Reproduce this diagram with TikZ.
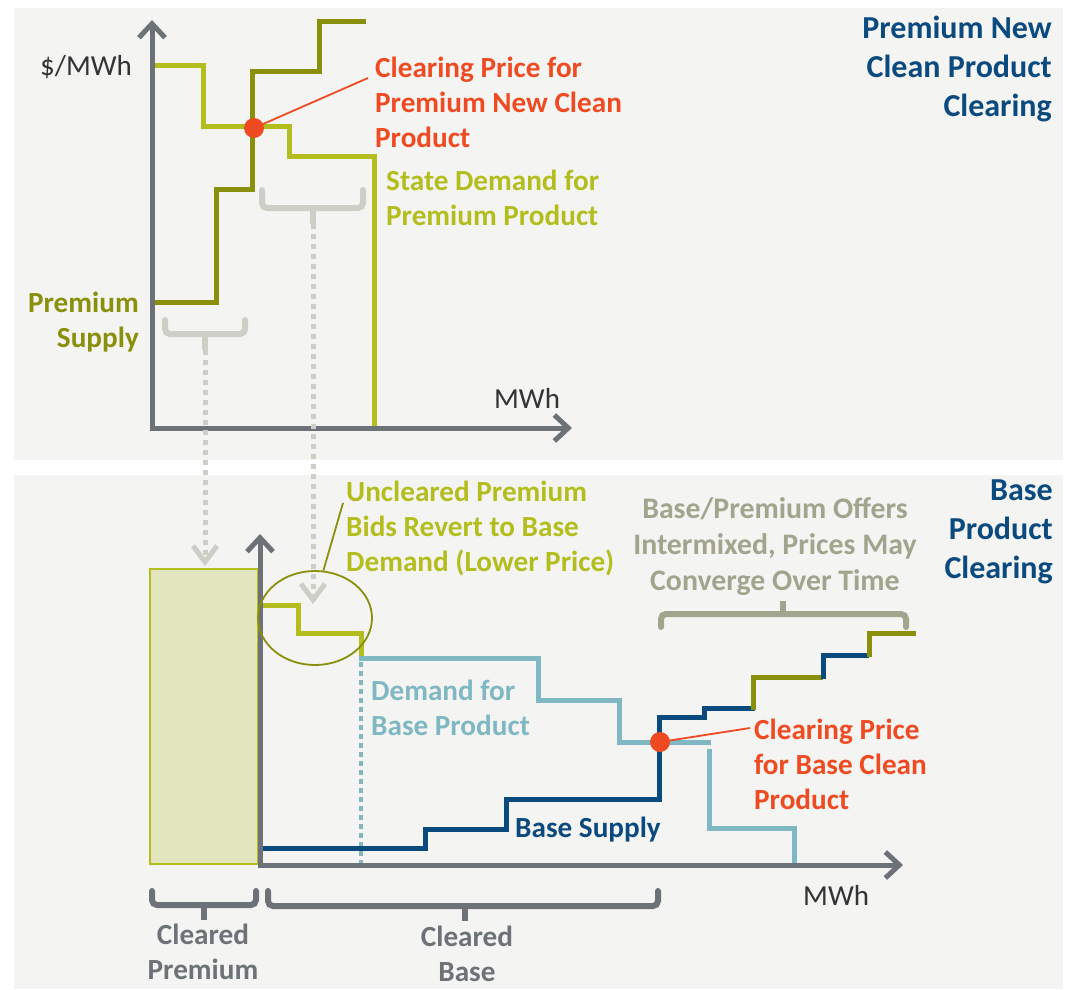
\documentclass[tikz,border=0pt]{standalone}
\usepackage{fontspec}
\setmainfont{Carlito}
\usetikzlibrary{arrows.meta,shapes.geometric}
\definecolor{panelbg}{HTML}{F4F4F2}
\definecolor{axisgray}{HTML}{6D7278}
\definecolor{demgreen}{HTML}{B3BE1E}
\definecolor{olive}{HTML}{8A8F0C}
\definecolor{clearred}{HTML}{EE4B22}
\definecolor{darkblue}{HTML}{0B4A7E}
\definecolor{lightblue}{HTML}{7FB8C2}
\definecolor{bracegray}{HTML}{CDCEC6}
\definecolor{offergray}{HTML}{A2A48E}
\definecolor{rectfill}{HTML}{E3E5BF}
\definecolor{textdark}{HTML}{333333}
\tikzset{
  axisline/.style={draw=axisgray, line width=5pt, -{Straight Barb[length=14pt,width=26pt,line width=5pt]}},
  curve/.style={line width=5pt},
  lbl/.style={inner sep=0pt, font={\fontsize{29.2}{35}\selectfont\bfseries}},
  reglbl/.style={inner sep=0pt, font={\fontsize{29}{35}\selectfont}, text=textdark},
  titlelbl/.style={inner sep=0pt, font={\fontsize{32}{39}\selectfont\bfseries}, text=darkblue, align=right, anchor=base east},
  bracket/.style={line width=6pt, rounded corners=5pt, line cap=round},
  dotarrow/.style={draw=bracegray, line width=5pt, dash pattern=on 4.5pt off 5.5pt, -{Straight Barb[length=16pt,width=24pt,line width=5pt]}},
  cleardot/.style={circle, fill=clearred, minimum size=20pt, inner sep=0pt},
  leader/.style={line width=1.8pt}
}
\begin{document}
\begin{tikzpicture}[x=1pt,y=-1pt]
\useasboundingbox (0,0) rectangle (1069,989);
% panels
\fill[panelbg] (14,8) rectangle (1063,460);
\fill[panelbg] (14,475) rectangle (1063,989);

% ===== TOP PANEL =====
\coordinate (tY) at (152,20);
\coordinate (tX) at (572,428);
% demand
\draw[curve, demgreen] (153,65) -- (203,65) -- (203,126) -- (289,126) -- (289,156) -- (374,156) -- (374,428);
% supply
\draw[curve, olive] (150,302) -- (216,302) -- (216,189) -- (252,189) -- (252,71) -- (319,71) -- (319,21) -- (366,21);
% axes
\draw[axisline] (152,430) -- (tY);
\draw[axisline] (150,428) -- (tX);
% clearing dot
\node[cleardot] (cp1) at (254,128) {};
\node[lbl, text=clearred, anchor=base west, align=left] (cp1t) at (375,147) {Clearing Price for\\Premium New Clean\\Product};
\coordinate (cp1e) at (368,78);
\draw[leader, clearred] (cp1.center) -- (cp1e);
% labels
\node[reglbl, anchor=base west] (ylab) at (40,75) {\$/MWh};
\node[reglbl, anchor=base west] (xlab1) at (494,408) {MWh};
\node[lbl, text=demgreen, anchor=base west, align=left] (sd) at (386,225) {State Demand for\\Premium Product};
\node[lbl, text=olive, anchor=base east, align=right] (ps) at (139,347) {Premium\\Supply};
\node[titlelbl] (t1) at (1052,116) {Premium New\\Clean Product\\Clearing};
% top braces
\draw[bracket, bracegray] (165,320) -- (165,334) -- (245,334) -- (245,320);
\draw[bracegray, line width=6pt] (205,334) -- (205,350);
\coordinate (b1tip) at (205,350);
\draw[bracket, bracegray] (262,190) -- (262,208) -- (363,208) -- (363,190);
\draw[bracegray, line width=6pt] (313,208) -- (313,224);
\coordinate (b2tip) at (313,224);

% ===== BOTTOM PANEL =====
% cleared premium rect
\node[draw=demgreen, fill=rectfill, line width=2pt, minimum width=108pt, minimum height=295pt, inner sep=0pt] (crect) at (204,716.5) {};
% dotted arrows
\coordinate (a1) at (205,566);
\coordinate (a2) at (313,604);
\draw[dotarrow] (b1tip) -- (a1);
\draw[dotarrow] (b2tip) -- (a2);
% premium demand remnant
\draw[curve, demgreen] (262,605) -- (298,605) -- (298,633) -- (361,633) -- (361,657);
% base demand
\draw[curve, lightblue] (359,658) -- (538,658) -- (538,700) -- (619,700) -- (619,742) -- (711,742);
\draw[curve, lightblue] (709,749) -- (709,828) -- (794,828) -- (794,864);
\draw[lightblue, line width=4pt, dash pattern=on 4.5pt off 4.5pt] (361,662) -- (361,864);
% base supply
\draw[curve, darkblue] (258,848) -- (425,848) -- (425,829) -- (506,829) -- (506,799) -- (659,799) -- (659,717) -- (704,717) -- (704,708) -- (755,708);
\draw[curve, olive] (753,710) -- (753,677) -- (823,677);
\draw[curve, darkblue] (823,679) -- (823,655) -- (869,655);
\draw[curve, olive] (869,657) -- (869,633) -- (916,633);
% axes
\draw[axisline] (260,866) -- (260,534);
\draw[axisline] (258,865) -- (903,865);
% ellipse
\node[draw=olive, line width=1.8pt, ellipse, minimum width=114pt, minimum height=94pt, inner sep=0pt] (circ) at (315,618) {};
\node[lbl, text=demgreen, anchor=base west, align=left] (unc) at (346,571) {Uncleared Premium\\Bids Revert to Base\\Demand (Lower Price)};
\coordinate (unce) at (343,503);
\draw[leader, olive] (circ.80) -- (unce);
% clearing dot base
\node[cleardot] (cp2) at (660,742) {};
\node[lbl, text=clearred, anchor=base west, align=left] (cp2t) at (754,809) {Clearing Price\\for Base Clean\\Product};
\coordinate (cp2e) at (750,728);
\draw[leader, clearred] (cp2.center) -- (cp2e);
% labels
\node[lbl, text=lightblue, anchor=base west, align=left] (dbp) at (371,735) {Demand for\\Base Product};
\node[lbl, text=darkblue, anchor=base west] (bs) at (515,837) {Base Supply};
\node[lbl, text=offergray, anchor=base, align=center, font={\fontsize{29.8}{36}\selectfont\bfseries}] (off) at (775,590) {Base/Premium Offers\\Intermixed, Prices May\\Converge Over Time};
\draw[bracket, offergray] (661,627) -- (661,614) -- (906,614) -- (906,627);
\draw[offergray, line width=6pt] (783,614) -- (783,601);
\node[reglbl, anchor=base west] (xlab2) at (803,905) {MWh};
\node[titlelbl] (t2) at (1053,578) {Base\\Product\\Clearing};
% bottom braces
\draw[bracket, axisgray] (152,891) -- (152,905) -- (256,905) -- (256,891);
\draw[axisgray, line width=6pt] (204,905) -- (204,920);
\node[lbl, text=axisgray, anchor=base, align=center] (cpl) at (203,979) {Cleared\\Premium};
\draw[bracket, axisgray] (268,891) -- (268,906) -- (658,906) -- (658,891);
\draw[axisgray, line width=6pt] (465,906) -- (465,921);
\node[lbl, text=axisgray, anchor=base, align=center] (cbl) at (467,981) {Cleared\\Base};
\end{tikzpicture}
\end{document}
